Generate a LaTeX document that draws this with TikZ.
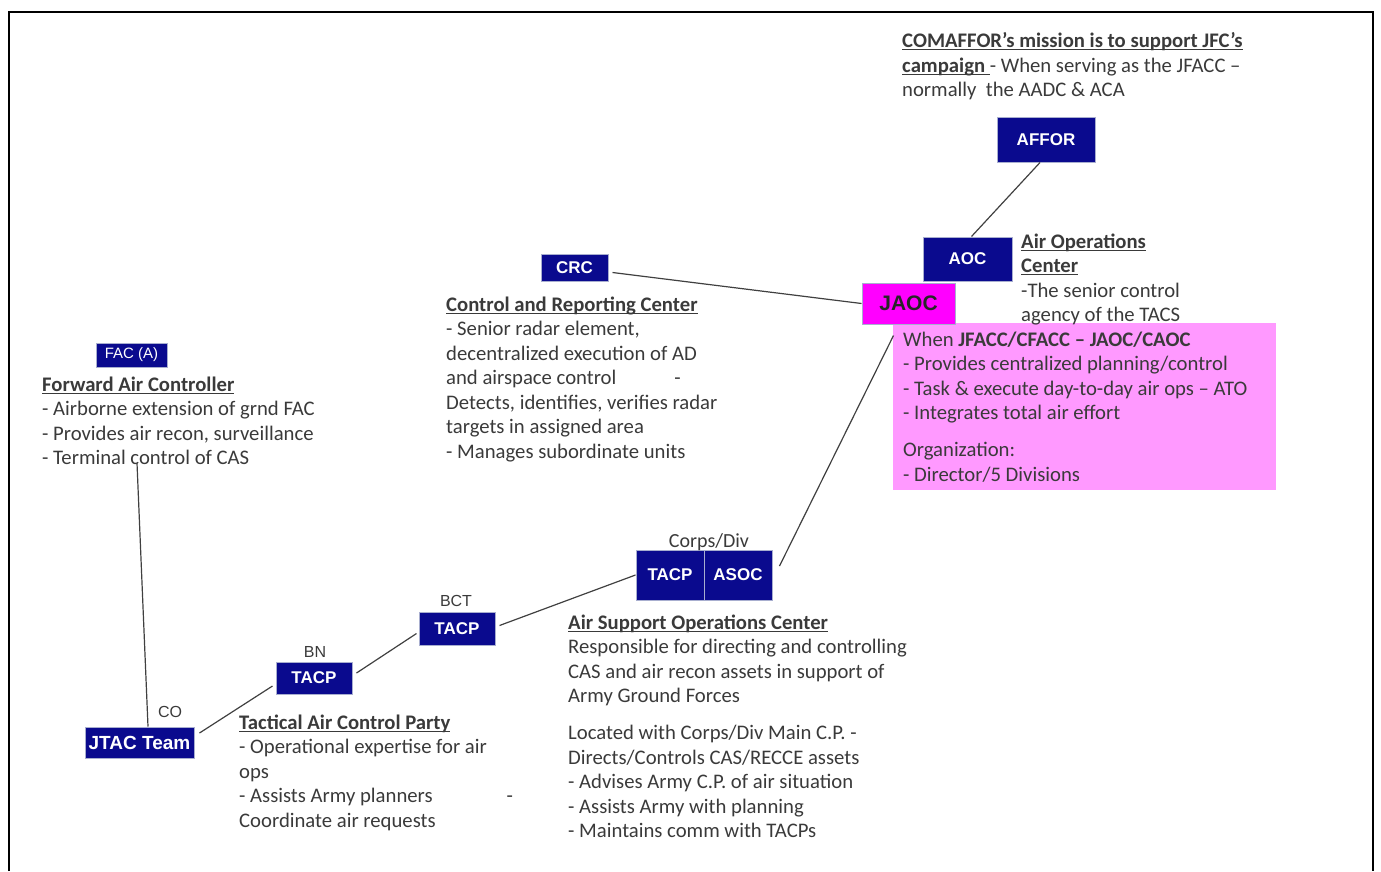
\documentclass[tikz,border=0pt]{standalone}
\usepackage{fontspec}
\setmainfont{Carlito}
\newfontfamily\boxfont{Liberation Sans}
\usetikzlibrary{positioning}
\definecolor{unitblue}{HTML}{0A0A8E}
\definecolor{unitedge}{HTML}{A8AECF}
\definecolor{jaocpink}{HTML}{FF00FF}
\definecolor{notepink}{HTML}{FF99FF}
\definecolor{inkgray}{HTML}{3A3A3A}
\definecolor{linkgray}{HTML}{404040}
\newcommand{\hd}[1]{\setbox0\hbox{\textbf{#1}}\rlap{\rule[-2.5pt]{\wd0}{1.2pt}}\box0}

\begin{document}
\begin{tikzpicture}[x=1pt, y=-1pt,
    unit/.style={
        draw=unitedge,
        line width=1pt,
        fill=unitblue,
        text=white,
        inner sep=0pt,
        font=\boxfont\bfseries\fontsize{17}{20}\selectfont,
    },
    note/.style={
        anchor=north west,
        align=left,
        inner sep=0pt,
        text=inkgray,
        font=\fontsize{20.7}{24.5}\selectfont,
        execute at begin node=\strut,
    },
    tag/.style={inner sep=0pt, text=inkgray, font=\boxfont\fontsize{16}{18}\selectfont},
    link/.style={draw=linkgray, line width=1.2pt},
]
\useasboundingbox (0,0) rectangle (1381,871);
\draw[line width=2pt] (9,871) -- (9,12) -- (1373,12) -- (1373,871);

\fill[notepink] (893,323) rectangle (1276,490);

\node[unit, minimum width=98, minimum height=45] (AFFOR) at (1046,139.5) {AFFOR};
\node[unit, minimum width=89, minimum height=44] (AOC) at (967.5,259) {AOC};
\node[unit, fill=jaocpink, text=black!85, minimum width=93, minimum height=41,
      font=\boxfont\bfseries\fontsize{21}{24}\selectfont] (JAOC) at (908.5,303.5) {JAOC};
\node[unit, minimum width=67, minimum height=27] (CRC) at (574.5,267.5) {CRC};
\node[unit, minimum width=71, minimum height=24,
      font=\boxfont\fontsize{15}{17}\selectfont] (FACA) at (131.5,355) {FAC (A)};
\node[unit, minimum width=109, minimum height=31,
      font=\boxfont\bfseries\fontsize{19}{22}\selectfont] (JTAC) at (139.5,742.5) {JTAC Team};
\node[unit, minimum width=76, minimum height=32] (TACPbn) at (314,678) {TACP};
\node[unit, minimum width=76, minimum height=33] (TACPbct) at (457,628.5) {TACP};
\node[unit, minimum width=68, minimum height=50] (TACPdiv) at (670,575) {TACP};
\node[unit, minimum width=68, minimum height=50] (ASOC) at (738,575) {ASOC};

\node[tag] (coTag) at (170,712) {CO};
\node[tag] (bnTag) at (315,652) {BN};
\node[tag] (bctTag) at (456,601) {BCT};
\node[tag, font=\fontsize{20}{22}\selectfont] (divTag) at (709,542) {Corps/Div};

\node[note] (comaffor) at (902,32.5) {\hd{COMAFFOR’s mission is to support JFC’s}\\
\hd{campaign\ }- When serving as the JFACC –\\
normally\ \ the AADC \& ACA};
\node[note] (aocNote) at (1021,233.5) {\hd{Air Operations}\\
\hd{Center}\\
-The senior control\\
agency of the TACS};
\node[note] (crcNote) at (446,296.5) {\hd{Control and Reporting Center}\\
- Senior radar element,\\
decentralized execution of AD\\
and airspace control\hspace{58pt}-\\
Detects, identifies, verifies radar\\
targets in assigned area\\
- Manages subordinate units};
\node[note] (facNote) at (42,376.5) {\hd{Forward Air Controller}\\
- Airborne extension of grnd FAC\\
- Provides air recon, surveillance\\
- Terminal control of CAS};
\node[note] (jaocNote) at (903,331.5) {When \textbf{JFACC/CFACC – JAOC/CAOC}\\
- Provides centralized planning/control\\
- Task \& execute day-to-day air ops – ATO\\
- Integrates total air effort\\[12.5pt]
Organization:\\
- Director/5 Divisions};
\node[note] (tacpNote) at (239,714.5) {\hd{Tactical Air Control Party}\\
- Operational expertise for air\\
ops\\
- Assists Army planners\hspace{74pt}-\\
Coordinate air requests};
\node[note] (asocNote) at (568,614.5) {\hd{Air Support Operations Center}\\
Responsible for directing and controlling\\
CAS and air recon assets in support of\\
Army Ground Forces\\[12.5pt]
Located with Corps/Div Main C.P. -\\
Directs/Controls CAS/RECCE assets\\
- Advises Army C.P. of air situation\\
- Assists Army with planning\\
- Maintains comm with TACPs};

\coordinate (facEnd) at (137,463);

\draw[link] ([xshift=-6pt]AFFOR.south) -- ([xshift=4pt]AOC.north);
\draw[link] ([xshift=4pt,yshift=-5pt]CRC.east) -- (JAOC.west);
\draw[link] ([xshift=-15pt,yshift=-11pt]JAOC.south) -- ([xshift=7pt,yshift=9pt]ASOC.east);
\draw[link] (TACPdiv.west) -- ([xshift=4pt,yshift=3pt]TACPbct.east);
\draw[link] ([xshift=-2pt,yshift=-5pt]TACPbct.west) -- ([xshift=4pt,yshift=5pt]TACPbn.east);
\draw[link] ([xshift=-3pt,yshift=-8pt]TACPbn.west) -- ([xshift=5pt,yshift=9.5pt]JTAC.east);
\draw[link] (facEnd) -- ([xshift=8.5pt]JTAC.north);

\end{tikzpicture}
\end{document}
